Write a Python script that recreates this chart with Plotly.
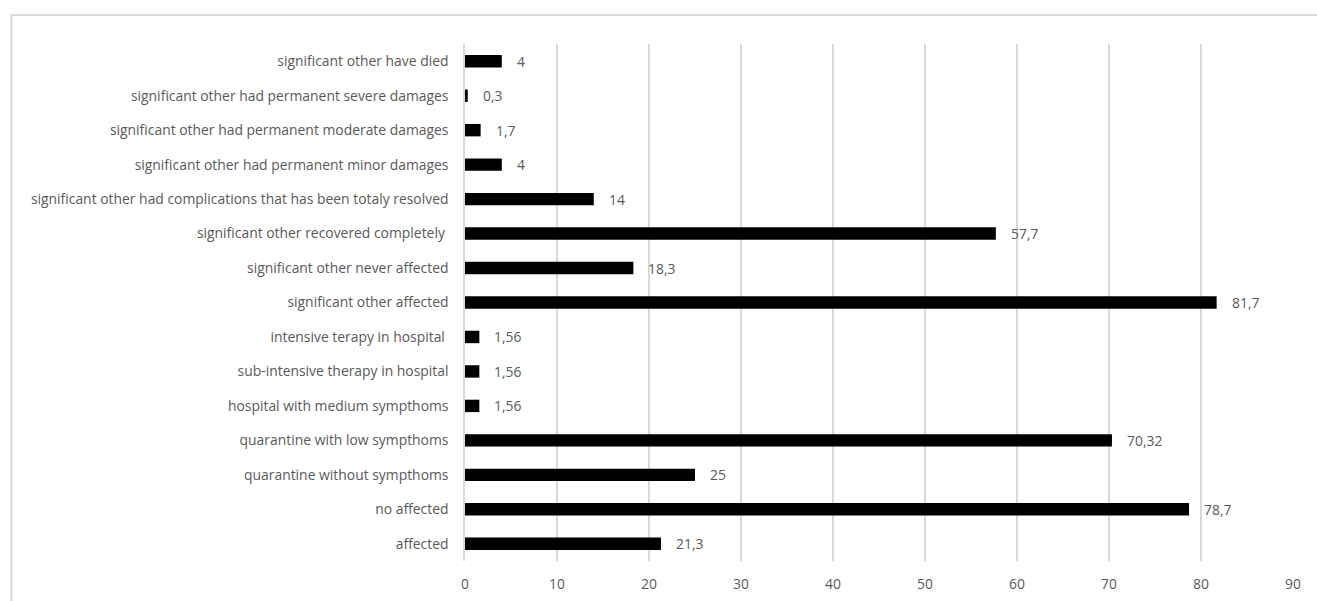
import plotly.graph_objects as go

# Categories listed bottom-to-top as they appear on the y axis
categories = [
    "affected",
    "no affected",
    "quarantine without sympthoms",
    "quarantine with low sympthoms",
    "hospital with medium sympthoms",
    "sub-intensive therapy in hospital",
    "intensive terapy in hospital ",
    "significant other affected",
    "significant other never affected",
    "significant other recovered completely ",
    "significant other had complications that has been totaly resolved",
    "significant other had permanent minor damages",
    "significant other had permanent moderate damages",
    "significant other had permanent severe damages",
    "significant other have died",
]
values = [21.3, 78.7, 25, 70.32, 1.56, 1.56, 1.56, 81.7, 18.3, 57.7, 14, 4, 1.7, 0.3, 4]
x_ticks = [0, 10, 20, 30, 40, 50, 60, 70, 80, 90]

FONT = "Open Sans"
FS = 13.9
GREY_TEXT = "#595959"
GRID = "#d9d9d9"

W, H = 1317, 601
ML, MR, MT, MB = 465, 24, 44, 40

fig = go.Figure()
fig.add_trace(go.Bar(
    y=categories,
    x=values,
    orientation="h",
    marker=dict(color="#000000", line=dict(width=0)),
    width=0.36,
    hoverinfo="x+y",
))

# Value labels with decimal commas, placed just right of each bar
for cat, v in zip(categories, values):
    fig.add_annotation(
        x=v, y=cat, xref="x", yref="y",
        text=f"{v:g}".replace(".", ","),
        showarrow=False, xanchor="left", xshift=13,
        font=dict(family=FONT, size=FS, color=GREY_TEXT),
    )

# Light grey frame around the chart area
plot_w = W - ML - MR
plot_h = H - MT - MB
fig.add_shape(
    type="rect", xref="paper", yref="paper",
    x0=(11.5 - ML) / plot_w, x1=(1330 - ML) / plot_w,
    y0=-(620 - (H - MB)) / plot_h, y1=1 + (MT - 15) / plot_h,
    line=dict(color=GRID, width=2), fillcolor="rgba(0,0,0,0)", layer="below",
)

fig.update_layout(
    width=W, height=H,
    margin=dict(l=ML, r=MR, t=MT, b=MB, autoexpand=False),
    paper_bgcolor="white", plot_bgcolor="white",
    showlegend=False,
    bargap=0.64,
    font=dict(family=FONT, size=FS, color=GREY_TEXT),
    xaxis=dict(
        range=[0, 90], tickvals=x_ticks, ticks="",
        showgrid=True, gridcolor=GRID, gridwidth=1.5,
        zeroline=False, showline=False,
        tickfont=dict(family=FONT, size=FS, color=GREY_TEXT),
        ticklabelstandoff=13, fixedrange=True,
    ),
    yaxis=dict(
        categoryorder="array", categoryarray=categories,
        showgrid=False, zeroline=False, ticks="",
        showline=True, linecolor=GRID, linewidth=1.5,
        tickfont=dict(family=FONT, size=FS, color=GREY_TEXT),
        ticklabelstandoff=12, fixedrange=True,
    ),
)

fig.write_html("out.html")
